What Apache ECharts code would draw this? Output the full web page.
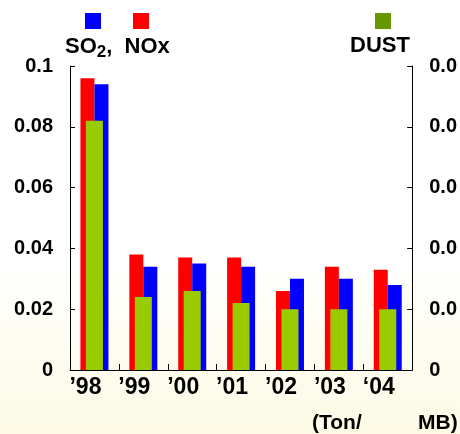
<!DOCTYPE html>
<html>
<head>
<meta charset="utf-8">
<script src="https://cdn.jsdelivr.net/npm/echarts@6/dist/echarts.min.js"></script>
<style>
html,body{margin:0;padding:0;background:#fff;}
#chart{width:460px;height:434px;}
</style>
</head>
<body>
<div id="chart"></div>
<script>
const categories = ['’98', '’99', '’00', '’01', '’02', '’03', '‘04'];
const noxValues = [0.096, 0.038, 0.037, 0.037, 0.026, 0.034, 0.033];
const so2Values = [0.094, 0.034, 0.035, 0.034, 0.030, 0.030, 0.028];
const dustValues = [0.082, 0.024, 0.026, 0.022, 0.020, 0.020, 0.020];
const leftTickLabels = ['0', '0.02', '0.04', '0.06', '0.08', '0.1'];
const rightTickLabels = ['0', '0.0', '0.0', '0.0', '0.0', '0.0'];

const FONT = '"Liberation Sans", Arial, sans-serif';
const chart = echarts.init(document.getElementById('chart'), null, {renderer: 'canvas'});

const axisCommon = {
  min: 0, max: 0.1, interval: 0.02,
  splitLine: {show: false},
  axisLine: {show: true, lineStyle: {color: '#000', width: 1}},
  axisTick: {show: true, inside: true, length: 5, lineStyle: {color: '#000'}}
};

chart.setOption({
  backgroundColor: {
    type: 'linear', x: 0, y: 0, x2: 0, y2: 1,
    colorStops: [
      {offset: 0, color: '#ffffff'},
      {offset: 0.6, color: '#ffffff'},
      {offset: 1, color: '#fcfae4'}
    ]
  },
  animation: false,
  grid: {left: 70, right: 45, top: 66, bottom: 64, show: false},
  xAxis: [
    {
      type: 'category', data: categories, boundaryGap: true,
      axisLine: {lineStyle: {color: '#000', width: 1}},
      axisTick: {show: true, inside: true, length: 6, interval: 0, lineStyle: {color: '#000'}},
      axisLabel: {color: '#000', fontFamily: FONT, fontWeight: 'bold', fontSize: 23, margin: 6, interval: 0,
        padding: [0, 18, 0, 0]},
      splitLine: {show: false}
    },
    {type: 'category', data: categories, show: false, boundaryGap: true}
  ],
  yAxis: [
    Object.assign({type: 'value', position: 'left',
      axisLabel: {color: '#000', fontFamily: FONT, fontWeight: 'bold', fontSize: 20, margin: 17,
        formatter: (v) => leftTickLabels[Math.round(v / 0.02)]}}, axisCommon),
    Object.assign({type: 'value', position: 'right',
      axisLabel: {color: '#000', fontFamily: FONT, fontWeight: 'bold', fontSize: 20, margin: 17,
        formatter: (v) => rightTickLabels[Math.round(v / 0.02)]}}, axisCommon)
  ],
  series: [
    {name: 'NOx', type: 'bar', xAxisIndex: 0, yAxisIndex: 0, data: noxValues,
      barWidth: 14, barGap: '0%', itemStyle: {color: '#ff0000'}, z: 2},
    {name: 'SO2', type: 'bar', xAxisIndex: 0, yAxisIndex: 0, data: so2Values,
      barWidth: 14, barGap: '0%', itemStyle: {color: '#0000ff'}, z: 2},
    {name: 'DUST', type: 'bar', xAxisIndex: 1, yAxisIndex: 1, data: dustValues,
      barWidth: 17, itemStyle: {color: '#99cc00'}, z: 5}
  ],
  graphic: [
    {type: 'rect', shape: {x: 85, y: 13, width: 16, height: 16}, style: {fill: '#0000ff'}},
    {type: 'rect', shape: {x: 133, y: 13, width: 16, height: 16}, style: {fill: '#ff0000'}},
    {type: 'rect', shape: {x: 375, y: 13, width: 16, height: 16}, style: {fill: '#669900'}},
    {type: 'text', x: 65, y: 47, style: {
      text: '{a|SO}{s|2}{a|,  NOx}', verticalAlign: 'middle', fill: '#000',
      rich: {
        a: {font: 'bold 22px ' + FONT, fill: '#000'},
        s: {font: 'bold 17px ' + FONT, fill: '#000', padding: [10, 0, 0, 0]}
      }}},
    {type: 'text', x: 350, y: 46, style: {text: 'DUST', font: 'bold 22px ' + FONT, fill: '#000', verticalAlign: 'middle'}},
    {type: 'text', x: 312, y: 423, style: {text: '(Ton/', font: 'bold 21px ' + FONT, fill: '#000', verticalAlign: 'middle'}},
    {type: 'text', x: 418, y: 423, style: {text: 'MB)', font: 'bold 21px ' + FONT, fill: '#000', verticalAlign: 'middle'}}
  ]
});
</script>
</body>
</html>
